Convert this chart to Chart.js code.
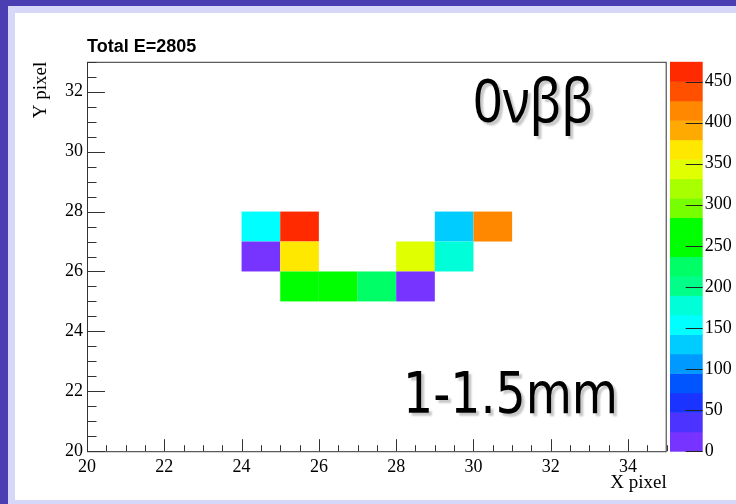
<!DOCTYPE html>
<html>
<head>
<meta charset="utf-8">
<script src="https://cdn.jsdelivr.net/npm/chart.js@4/dist/chart.umd.min.js"></script>
<style>
  html, body { margin: 0; padding: 0; background: #4b3eb3; overflow: hidden; }
  #frame { position: absolute; left: 8px; top: 6px; width: 728px; height: 498px; background: #d7d7f9; }
  #wrap { position: absolute; left: 7px; top: 7px; width: 721px; height: 487px; background: #fff; }
</style>
</head>
<body>
<div id="frame"><div id="wrap"><canvas id="hist"></canvas></div></div>
<script>
// Pixel hits (lower-left corner of each cell) and their energies
const cellX = [24, 25, 29, 30, 24, 25, 28, 29, 25, 26, 27, 28];
const cellY = [27, 27, 27, 27, 26, 26, 26, 26, 25, 25, 25, 25];
const cellE = [155, 460, 130, 415, 5, 365, 340, 178, 260, 265, 225, 7];

// Axis ranges
const xRange = [20, 35];
const yRange = [20, 33];
const zMax = 474;

// Colour palette, lowest band first
const palette = [
    '#7733ff', '#4d33ff', '#1a33ff', '#0055ff', '#0099ff',
    '#00ccff', '#00ffff', '#00ffd8', '#00ff88', '#00ff66',
    '#00ff00', '#00ff00', '#77ff00', '#a8ff00', '#e0ff00',
    '#ffe800', '#ffaa00', '#ff8800', '#ff5000', '#ff2a00'
];

const totalE = cellE.reduce((a, b) => a + b, 0);
const bandSize = zMax / palette.length;

function colourFor(v) {
    return palette[Math.min(palette.length - 1, Math.floor(v / bandSize))];
}

const serif = '"Liberation Serif", "DejaVu Serif", serif';

// Draw cells, colour bar, tick marks and labels
const histPlugin = {
    id: 'hist2d',
    beforeDatasetsDraw(chart) {
        const ctx = chart.ctx;
        const x = chart.scales.x, y = chart.scales.y;
        ctx.save();
        cellE.forEach((v, i) => {
            const x0 = x.getPixelForValue(cellX[i]);
            const x1 = x.getPixelForValue(cellX[i] + 1);
            const y0 = y.getPixelForValue(cellY[i] + 1);
            const y1 = y.getPixelForValue(cellY[i]);
            ctx.fillStyle = colourFor(v);
            ctx.fillRect(x0, y0, x1 - x0, y1 - y0);
        });
        ctx.restore();
    },
    afterDraw(chart) {
        const ctx = chart.ctx;
        const area = chart.chartArea;
        const x = chart.scales.x, y = chart.scales.y, z = chart.scales.z;
        ctx.save();

        // frame
        ctx.strokeStyle = '#333';
        ctx.lineWidth = 1;
        ctx.strokeRect(area.left + 0.5, area.top + 0.5, area.right - area.left - 1, area.bottom - area.top);

        // x ticks, pointing into the pad
        ctx.beginPath();
        for (let v = xRange[0]; v <= xRange[1]; v += 0.5) {
            const px = Math.round(x.getPixelForValue(v)) + 0.5;
            const len = (v % 2 === 0) ? 12 : 6;
            ctx.moveTo(px, area.bottom);
            ctx.lineTo(px, area.bottom - len);
        }
        // y ticks
        for (let v = yRange[0]; v <= yRange[1]; v += 0.5) {
            const py = Math.round(y.getPixelForValue(v)) + 0.5;
            const len = (v % 2 === 0) ? 18 : 9.5;
            ctx.moveTo(area.left, py);
            ctx.lineTo(area.left + len, py);
        }
        ctx.stroke();

        // colour bar
        const barL = z.left + 3.3, barR = z.left + 36;
        palette.forEach((c, i) => {
            const top = z.getPixelForValue((i + 1) * bandSize);
            const bot = z.getPixelForValue(i * bandSize);
            ctx.fillStyle = c;
            ctx.fillRect(barL, top, barR - barL, bot - top + 0.5);
        });
        ctx.strokeStyle = '#222';
        ctx.beginPath();
        z.ticks.forEach(t => {
            const py = Math.round(z.getPixelForValue(t.value)) + 0.5;
            ctx.moveTo(barR, py);
            ctx.lineTo(barR - 17, py);
        });
        ctx.stroke();

        // title
        ctx.fillStyle = '#000';
        ctx.font = 'bold 18px "Liberation Sans", Arial, sans-serif';
        ctx.textBaseline = 'alphabetic';
        ctx.textAlign = 'left';
        ctx.fillText('Total E=' + totalE, area.left, 38.7);

        // big annotations with a soft shadow
        const big = (text, font, left, base, width) => {
            ctx.save();
            ctx.font = font;
            const w = ctx.measureText(text).width;
            ctx.shadowColor = 'rgba(0,0,0,0.22)';
            ctx.shadowOffsetX = 3;
            ctx.shadowOffsetY = 3;
            ctx.shadowBlur = 2;
            ctx.translate(left, base);
            ctx.scale(width / w, 1);
            ctx.fillStyle = '#000';
            ctx.fillText(text, 0, 0);
            ctx.restore();
        };
        big('0\u03bd\u03b2\u03b2', '60px "Noto Sans", sans-serif', 458, 109, 120);
        big('1-1.5mm', '57px "DejaVu Sans", sans-serif', 388, 400.3, 215);

        ctx.restore();
    }
};

new Chart(document.getElementById('hist'), {
    type: 'scatter',
    data: {
        datasets: [{
            label: 'hits',
            data: cellE.map((v, i) => ({ x: cellX[i] + 0.5, y: cellY[i] + 0.5 })),
            pointRadius: 0,
            backgroundColor: cellE.map(colourFor)
        }]
    },
    options: {
        responsive: true,
        maintainAspectRatio: false,
        animation: false,
        events: [],
        layout: { padding: { top: 47, left: 0, right: 0, bottom: 0 } },
        plugins: {
            legend: { display: false },
            tooltip: { enabled: false }
        },
        scales: {
            x: {
                type: 'linear',
                min: xRange[0],
                max: xRange[1],
                grid: { display: false, drawTicks: false, tickLength: 0 },
                border: { display: false },
                ticks: {
                    stepSize: 2,
                    includeBounds: false,
                    maxRotation: 0,
                    padding: 5,
                    color: '#000',
                    font: { family: serif, size: 18 }
                },
                title: {
                    display: true,
                    text: 'X pixel',
                    align: 'end',
                    color: '#000',
                    font: { family: serif, size: 19 },
                    padding: { top: 0, bottom: 4 }
                },
                afterFit(scale) { scale.height = 47.3; }
            },
            y: {
                type: 'linear',
                min: yRange[0],
                max: yRange[1],
                grid: { display: false, drawTicks: false, tickLength: 0 },
                border: { display: false },
                ticks: {
                    stepSize: 2,
                    includeBounds: false,
                    padding: 4,
                    color: '#000',
                    font: { family: serif, size: 18 }
                },
                title: {
                    display: true,
                    text: 'Y pixel',
                    align: 'end',
                    color: '#000',
                    font: { family: serif, size: 19 },
                    padding: { top: 15, bottom: 0 }
                },
                afterFit(scale) { scale.width = 72; }
            },
            z: {
                type: 'linear',
                position: 'right',
                min: 0,
                max: zMax,
                grid: { display: false, drawTicks: false, tickLength: 0 },
                border: { display: false },
                ticks: {
                    stepSize: 50,
                    includeBounds: false,
                    padding: 38,
                    color: '#000',
                    font: { family: serif, size: 18 }
                },
                afterFit(scale) { scale.width = 69.3; }
            }
        }
    },
    plugins: [histPlugin]
});
</script>
</body>
</html>
